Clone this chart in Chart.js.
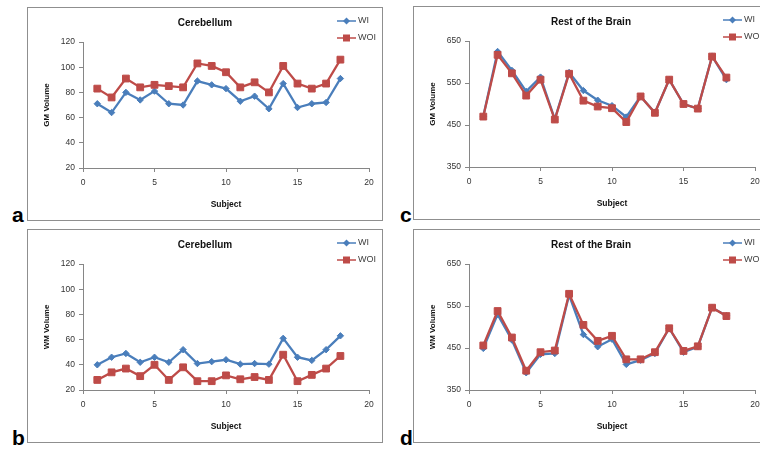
<!DOCTYPE html>
<html><head><meta charset="utf-8">
<script src="https://cdn.jsdelivr.net/npm/chart.js@4.4.0/dist/chart.umd.min.js"></script>
<style>
html,body{margin:0;padding:0;background:#fff;overflow:hidden;width:760px;height:449px;}
.box{position:absolute;width:354px;height:212px;border:1px solid #8f8f8f;}
.box canvas{display:block;}
.lbl{position:absolute;font:bold 21px "Liberation Sans",Arial,sans-serif;color:#000;line-height:1;}
</style></head><body>
<div class="box" style="left:27px;top:7px"><canvas id="ca" width="354" height="212"></canvas></div>
<div class="box" style="left:413px;top:6px"><canvas id="cc" width="354" height="212"></canvas></div>
<div class="box" style="left:27px;top:229px"><canvas id="cb" width="354" height="212"></canvas></div>
<div class="box" style="left:413px;top:229px"><canvas id="cd" width="354" height="212"></canvas></div>
<div class="lbl" style="left:12px;top:204px">a</div>
<div class="lbl" style="left:400px;top:204px">c</div>
<div class="lbl" style="left:12px;top:427px">b</div>
<div class="lbl" style="left:400px;top:427px">d</div>
<script>
const subjects = [1,2,3,4,5,6,7,8,9,10,11,12,13,14,15,16,17,18];
const seriesNames = ['WI','WOI'];
const xTicks = [0,5,10,15,20];
const cerebTicks = [20,40,60,80,100,120];
const restTicks = [350,450,550,650];

const gmCerebWI  = [71,64,80,74,81,71,70,89,86,83,73,77,67,87,68,71,72,91];
const gmCerebWOI = [83,76,91,84,86,85,84,103,101,96,84,88,80,101,87,83,87,106];
const wmCerebWI  = [40,46,49,42,46,42,52,41,42.5,44,40.5,41,40.5,61,46,43.5,52,63];
const wmCerebWOI = [28,34,37,31,40,28,38,27,27,31.6,28.5,30.3,28,48,27,32,37,47];
const gmRestWI   = [471,625,580,530,564,464,575,532,509,496,469,518,479,558,500,489,614,558];
const gmRestWOI  = [470,617,573,520,558,463,572,508,494,490,457,518,479,558,500,489,613,563];
const wmRestWI   = [449,530,469,391,435,437,576,482,453,471,411,421,437,497,440,453,546,527];
const wmRestWOI  = [456,538,475,396,440,444,579,505,467,479,423,423,440,497,443,454,546,526];

const FONT = '"Liberation Sans", Arial, sans-serif';
const BLUE = '#4a7ebb', RED = '#be4b48', AXIS = '#868686', TXT = '#333333';

const legendPlugin = {
  id: 'excelLegend',
  afterDraw(chart) {
    const {ctx, chartArea} = chart;
    const x0 = chartArea.right - 32, x1 = chartArea.right - 13, xm = (x0 + x1) / 2;
    chart.data.datasets.forEach((d, i) => {
      const y = chartArea.top - 21 + i * 17;
      ctx.save();
      ctx.strokeStyle = d.borderColor; ctx.lineWidth = 1.5;
      ctx.beginPath(); ctx.moveTo(x0, y); ctx.lineTo(x1, y); ctx.stroke();
      ctx.fillStyle = d.backgroundColor;
      ctx.beginPath();
      if (d.pointStyle === 'rectRot') {
        ctx.moveTo(xm, y - 3.5); ctx.lineTo(xm + 3.5, y); ctx.lineTo(xm, y + 3.5); ctx.lineTo(xm - 3.5, y);
        ctx.closePath();
      } else {
        ctx.rect(xm - 3.5, y - 3.5, 7, 7);
      }
      ctx.fill();
      ctx.fillStyle = '#404040'; ctx.font = '9px ' + FONT; ctx.textBaseline = 'middle'; ctx.textAlign = 'left';
      ctx.fillText(d.label, x1 + 2, y);
      ctx.restore();
    });
  }
};

function ds(label, vals, color, style, r, order) {
  return {
    label, order, data: subjects.map((s, i) => ({x: s, y: vals[i]})),
    borderColor: color, backgroundColor: color, pointStyle: style,
    pointRadius: r, pointHoverRadius: r, pointBorderWidth: 1, borderWidth: 2.3, tension: 0
  };
}

function makeChart(id, title, yTitle, yTickVals, wi, woi) {
  const ymin = yTickVals[0], ymax = yTickVals[yTickVals.length - 1];
  new Chart(document.getElementById(id), {
    type: 'line',
    data: { datasets: [ds(seriesNames[0], wi, BLUE, 'rectRot', 3.2, 1), ds(seriesNames[1], woi, RED, 'rect', 4.8, 0)] },
    options: {
      responsive: false, animation: false,
      layout: { padding: 0 },
      plugins: {
        legend: { display: false }, tooltip: { enabled: false },
        title: { display: true, text: title, color: '#111', font: { family: FONT, size: 10, weight: 'bold' }, padding: { top: 9, bottom: 13 } }
      },
      scales: {
        x: {
          type: 'linear', min: xTicks[0], max: xTicks[xTicks.length - 1],
          afterBuildTicks: s => { s.ticks = xTicks.map(v => ({value: v})); },
          afterFit: s => { s.height = 52; },
          ticks: { color: TXT, font: { family: FONT, size: 8.5 }, padding: 6, maxRotation: 0 },
          grid: { drawOnChartArea: false, drawTicks: true, tickLength: 4, color: AXIS },
          border: { color: AXIS },
          title: { display: true, text: 'Subject', color: '#111', font: { family: FONT, size: 8.5, weight: 'bold' }, padding: { top: 0, bottom: 10 } }
        },
        y: {
          min: ymin, max: ymax,
          afterBuildTicks: s => { s.ticks = yTickVals.map(v => ({value: v})); },
          afterFit: s => { s.width = 55; },
          ticks: { color: TXT, font: { family: FONT, size: 8.5 }, padding: 4 },
          grid: { drawOnChartArea: false, drawTicks: true, tickLength: 4, color: AXIS },
          border: { color: AXIS },
          title: { display: true, text: yTitle, color: '#111', font: { family: FONT, size: 8, weight: 'bold' }, padding: { top: 14, bottom: 0 } }
        },
        yr: {
          position: 'right', min: ymin, max: ymax,
          afterFit: s => { s.width = 13; },
          ticks: { display: false },
          grid: { display: false, drawTicks: false },
          border: { display: false }
        }
      }
    },
    plugins: [legendPlugin]
  });
}

makeChart('ca', 'Cerebellum', 'GM Volume', cerebTicks, gmCerebWI, gmCerebWOI);
makeChart('cb', 'Cerebellum', 'WM Volume', cerebTicks, wmCerebWI, wmCerebWOI);
makeChart('cc', 'Rest of the Brain', 'GM Volume', restTicks, gmRestWI, gmRestWOI);
makeChart('cd', 'Rest of the Brain', 'WM Volume', restTicks, wmRestWI, wmRestWOI);
</script>
</body></html>
